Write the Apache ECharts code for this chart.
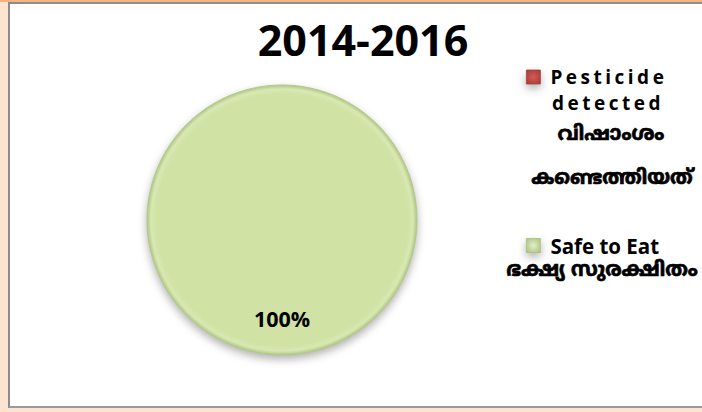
<!DOCTYPE html>
<html>
<head>
<meta charset="utf-8">
<script src="https://cdn.jsdelivr.net/npm/echarts@6/dist/echarts.min.js"></script>
<style>
html,body{margin:0;padding:0;width:702px;height:412px;overflow:hidden;background:#FDE4D0;}
#top{position:absolute;left:0;top:0;width:702px;height:2px;background:#F8B27E;}
#panel{position:absolute;left:8px;top:2px;width:694px;height:406px;background:#fff;border-left:2px solid #8c8c8c;border-top:2px solid #8c8c8c;border-bottom:2px solid #9a9a9a;box-sizing:border-box;}
#chart{position:absolute;left:0;top:0;width:702px;height:412px;}
#chart text[style*="19px"]{letter-spacing:3.5px;}
#chart path{filter:drop-shadow(0px 4px 4px rgba(0,0,0,0.3));}
</style>
</head>
<body>
<div id="top"></div>
<div id="panel"></div>
<div id="chart"></div>
<script>
const chartTitle = '2014-2016';
const categories = ['Pesticide detected', 'Safe to Eat'];
const legendLabels = ['Pesticide', 'Safe to Eat'];
const malayalamLabels = ['വിഷാംശം', 'കണ്ടെത്തിയത്', 'ഭക്ഷ്യ സുരക്ഷിതം'];
const values = [0, 100];
const colors = ['#C0504D', '#D0E2A4'];

const chart = echarts.init(document.getElementById('chart'), null, {renderer: 'svg'});
const mlFont = '"Noto Sans Malayalam","Noto Sans","DejaVu Sans",sans-serif';
const mlStyle = {fontFamily: mlFont, fontWeight: 'bold', fontSize: 20, color: '#000', textBorderColor: '#000', textBorderWidth: 0.7};
chart.setOption({
  backgroundColor: 'transparent',
  animation: false,
  title: [
    {text: chartTitle, left: 358, top: 13, textAlign: 'center',
     textStyle: {fontFamily: '"Open Sans"', fontWeight: 'bold', fontSize: 43, color: '#000'}},
    {text: 'detected', left: 547, top: 88,
     textStyle: {fontFamily: '"Open Sans"', fontWeight: 'bold', fontSize: 19, color: '#000'}},
    {text: malayalamLabels[0], left: 606, top: 120, textAlign: 'center', textStyle: mlStyle},
    {text: malayalamLabels[1], left: 607, top: 164, textAlign: 'center', textStyle: mlStyle},
    {text: malayalamLabels[2], left: 597, top: 256, textAlign: 'center', textStyle: mlStyle}
  ],
  legend: {
    orient: 'vertical', left: 521, top: 61,
    itemWidth: 14, itemHeight: 14, itemGap: 146.5, icon: 'rect',
    data: categories.map((c, i) => ({
      name: c,
      itemStyle: {
        color: i === 0 ? {type: 'radial', x: 0.5, y: 0.5, r: 0.7, colorStops: [{offset: 0, color: '#D65A55'}, {offset: 1, color: '#9E3A37'}]}
                       : {type: 'radial', x: 0.5, y: 0.5, r: 0.7, colorStops: [{offset: 0, color: '#E2EDC8'}, {offset: 1, color: '#A9C07A'}]},
        borderColor: i === 0 ? '#A8403C' : '#A9BF7F', borderWidth: 0.8
      },
      textStyle: i === 0 ? {fontSize: 19} : {fontSize: 20.5}
    })),
    formatter: name => legendLabels[categories.indexOf(name)],
    textStyle: {fontFamily: '"Open Sans"', fontWeight: 'bold', fontSize: 20, lineHeight: 22, color: '#000', padding: [0, 0, 0, 5]}
  },
  series: [{
    type: 'pie',
    center: [282, 220],
    radius: [0, 135],
    startAngle: 90,
    stillShowZeroSum: true,
    label: {
      show: true, position: 'center',
      formatter: p => p.value > 0 ? '\n' + Math.round(p.percent) + '%' : '',
      fontFamily: '"Open Sans"', fontWeight: 'bold', fontSize: 21.5, color: '#000',
      lineHeight: 196
    },
    labelLine: {show: false},
    emphasis: {disabled: true},
    itemStyle: {
      borderColor: '#B3C88A', borderWidth: 1
    },
    data: categories.map((c, i) => ({
      name: c, value: values[i],
      label: i === 0 ? {show: false} : undefined,
      itemStyle: {color: i === 1 ? {
        type: 'radial', x: 0.5, y: 0.5, r: 0.5,
        colorStops: [{offset: 0, color: '#D0E2A4'}, {offset: 0.93, color: '#D0E2A4'}, {offset: 0.97, color: '#D9E8B3'}, {offset: 1, color: '#B0C684'}]
      } : colors[i]}
    }))
  }]
});
</script>
</body>
</html>
